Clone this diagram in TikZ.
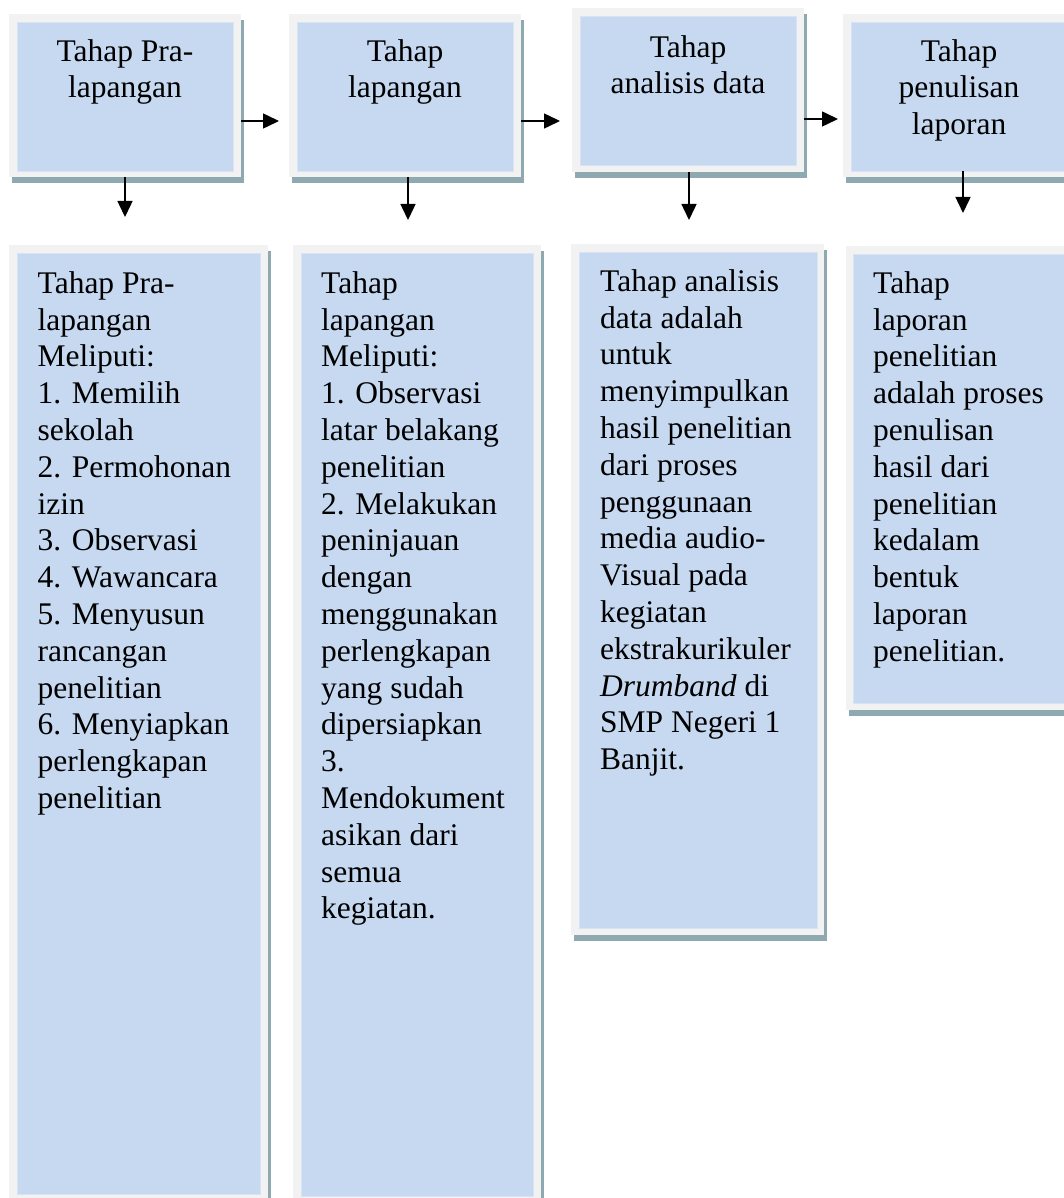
\documentclass[tikz,border=0pt]{standalone}
\usepackage{fontspec}
\setmainfont{Liberation Serif}
\usetikzlibrary{arrows.meta,shadows}
\definecolor{framec}{HTML}{F2F2F2}
\definecolor{boxblue}{HTML}{C6D9F0}
\definecolor{boxline}{HTML}{D8E4F3}
\definecolor{shadowc}{HTML}{8FA9B0}
\newcommand{\bodyfont}{\fontsize{31.5}{36.8}\selectfont}
\begin{document}
\begin{tikzpicture}[x=1pt,y=-1pt,
  frame/.style={rectangle,fill=framec,inner sep=0pt,outer sep=0pt,
    drop shadow={shadow xshift=3pt,shadow yshift=-6pt,fill=shadowc,opacity=1}},
  inbox/.style={rectangle,fill=boxblue,draw=boxline,line width=0.8pt,inner sep=0pt,outer sep=0pt},
  toptext/.style={anchor=north,align=center,inner sep=0pt,font=\bodyfont},
  bottext/.style={anchor=north west,align=left,inner sep=0pt,font=\bodyfont},
  arr/.style={line width=1.5pt,-{Triangle[length=16pt,width=15pt]}}]
\useasboundingbox (0,0) rectangle (1064,1198);
\clip (0,0) rectangle (1064,1198);

% ---------- top boxes ----------
\node[frame,minimum width=232pt,minimum height=163pt] (t1) at (125,95.5) {};
\node[inbox,minimum width=216pt,minimum height=149pt] (t1i) at (125,96.5) {};
\node[toptext] (t1t) at (125,35.24) {\strut Tahap Pra-\\lapangan};

\node[frame,minimum width=232pt,minimum height=163pt] (t2) at (405,95.5) {};
\node[inbox,minimum width=216pt,minimum height=149pt] (t2i) at (405,96.5) {};
\node[toptext] (t2t) at (405,35.24) {\strut Tahap\\lapangan};

\node[frame,minimum width=232pt,minimum height=164pt] (t3) at (688,90) {};
\node[inbox,minimum width=216pt,minimum height=149pt] (t3i) at (688,90.5) {};
\node[toptext] (t3t) at (688,31.24) {\strut Tahap\\analisis data};

\node[frame,minimum width=232pt,minimum height=163pt] (t4) at (959,95.5) {};
\node[inbox,minimum width=216pt,minimum height=149pt] (t4i) at (959,96.5) {};
\node[toptext] (t4t) at (959,35.24) {\strut Tahap\\penulisan\\laporan};

% ---------- bottom boxes ----------
\node[frame,minimum width=259pt,minimum height=959pt] (b1) at (138.5,724.5) {};
\node[inbox,minimum width=243pt,minimum height=941pt] (b1i) at (138.5,723.5) {};
\node[bottext] (b1t) at (37.5,267.24) {\strut Tahap Pra-\\lapangan\\Meliputi:\\1. Memilih\\sekolah\\2. Permohonan\\izin\\3. Observasi\\4. Wawancara\\5. Menyusun\\rancangan\\penelitian\\6. Menyiapkan\\perlengkapan\\penelitian};

\node[frame,minimum width=248pt,minimum height=961pt] (b2) at (417,725.5) {};
\node[inbox,minimum width=232pt,minimum height=943pt] (b2i) at (417,724.5) {};
\node[bottext] (b2t) at (321,267.24) {\strut Tahap\\lapangan\\Meliputi:\\1. Observasi\\latar belakang\\penelitian\\2. Melakukan\\peninjauan\\dengan\\menggunakan\\perlengkapan\\yang sudah\\dipersiapkan\\3.\\Mendokument\\asikan dari\\semua\\kegiatan.};

\node[frame,minimum width=253pt,minimum height=691pt] (b3) at (697.5,589.5) {};
\node[inbox,minimum width=238pt,minimum height=676pt] (b3i) at (698,590) {};
\node[bottext] (b3t) at (600,265.24) {\strut Tahap analisis\\data adalah\\untuk\\menyimpulkan\\hasil penelitian\\dari proses\\penggunaan\\media audio-\\Visual pada\\kegiatan\\ekstrakurikuler\\\textit{Drumband} di\\SMP Negeri 1\\Banjit.};

\node[frame,minimum width=232pt,minimum height=464pt] (b4) at (962,478) {};
\node[inbox,minimum width=218pt,minimum height=449pt] (b4i) at (962,478.5) {};
\node[bottext] (b4t) at (873,267.24) {\strut Tahap\\laporan\\penelitian\\adalah proses\\penulisan\\hasil dari\\penelitian\\kedalam\\bentuk\\laporan\\penelitian.};

% ---------- connectors ----------
\coordinate (a1e) at (279,121);
\coordinate (a2e) at (560,121);
\coordinate (a3e) at (838,119);
\draw[arr] (t1.east |- a1e) -- (a1e);
\draw[arr] (t2.east |- a2e) -- (a2e);
\draw[arr] (t3.east |- a3e) -- (a3e);

\coordinate (d1) at (125,217);
\coordinate (d2) at (408,220);
\coordinate (d3) at (689,220);
\coordinate (d4) at (963,213);
\draw[arr] (t1.south -| d1) -- (d1);
\draw[arr] (t2.south -| d2) -- (d2);
\draw[arr] (t3.south -| d3) -- (d3);
\draw[arr] (t4i.south -| d4) -- (d4);
\end{tikzpicture}
\end{document}
